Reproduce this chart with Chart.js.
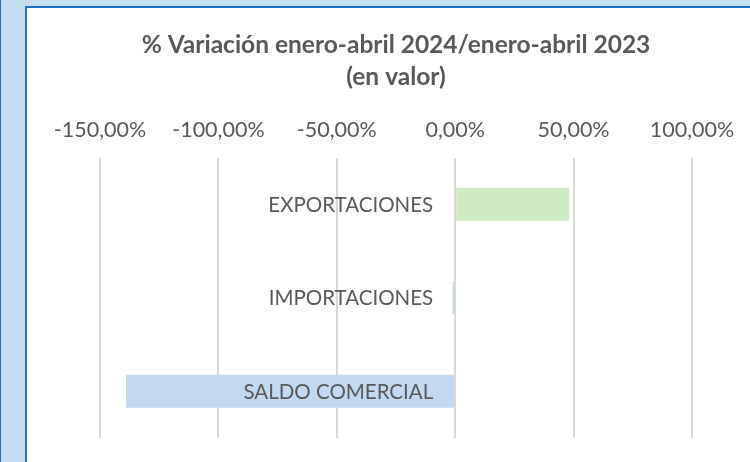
<!DOCTYPE html>
<html>
<head>
<meta charset="utf-8">
<script src="https://cdn.jsdelivr.net/npm/chart.js@4.4.1/dist/chart.umd.min.js"></script>
<style>
  html, body { margin: 0; padding: 0; }
  body { width: 750px; height: 462px; overflow: hidden; background: #c6dcf0; position: relative; }
  #edge { position: absolute; left: 0; top: 0; width: 1px; height: 462px; background: #1f6fc5; }
  #frame { position: absolute; left: 25px; top: 6px; width: 740px; height: 460px;
           border-left: 2px solid #1f6fc5; border-top: 2px solid #1f6fc5; background: #fff; }
  #wrap { position: absolute; left: 0; top: 0; width: 738px; height: 454px; }
</style>
</head>
<body>
<div id="edge"></div>
<div id="frame"><div id="wrap"><canvas id="myChart"></canvas></div></div>
<script>
// data
const categories = ['EXPORTACIONES', 'IMPORTACIONES', 'SALDO COMERCIAL'];
const variation = [48.2, -1.1, -139.0];
const tickValues = [-150, -100, -50, 0, 50, 100];

const FONT = 'Lato, "Open Sans", sans-serif';
const TEXT = '#595959';

function fmtPct(v) {
    return v.toFixed(2).replace('.', ',') + '%';
}

// category names drawn just left of the zero line
const zeroLabels = {
    id: 'zeroLabels',
    afterDatasetsDraw(chart) {
        const ctx = chart.ctx;
        const x0 = chart.scales.x.getPixelForValue(0);
        ctx.save();
        ctx.font = '20.5px ' + FONT;
        ctx.fillStyle = TEXT;
        ctx.textAlign = 'right';
        ctx.textBaseline = 'middle';
        categories.forEach(function(c, i) {
            ctx.fillText(c, x0 - 22, chart.scales.y.getPixelForValue(i) + 1);
        });
        ctx.restore();
    }
};

const ctx = document.getElementById('myChart');
new Chart(ctx, {
    type: 'bar',
    data: {
        labels: categories,
        datasets: [{
            data: variation,
            backgroundColor: variation.map(v => v >= 0 ? '#cdeac3' : '#c3d8f1'),
            barPercentage: 0.355,
            categoryPercentage: 1
        }]
    },
    options: {
        indexAxis: 'y',
        responsive: true,
        maintainAspectRatio: false,
        animation: false,
        layout: { padding: { left: 73, right: 73, top: 21, bottom: 24 } },
        plugins: {
            legend: { display: false },
            tooltip: { enabled: false },
            title: {
                display: true,
                text: ['% Variación enero-abril 2024/enero-abril 2023', '(en valor)'],
                color: TEXT,
                font: { family: FONT, size: 24.5, weight: 'bold', lineHeight: 1.3 },
                padding: { top: 0, bottom: 9 }
            }
        },
        scales: {
            x: {
                position: 'top',
                min: -150,
                max: 100,
                afterBuildTicks(scale) {
                    scale.ticks = tickValues.map(v => ({ value: v }));
                },
                ticks: {
                    color: TEXT,
                    font: { family: FONT, size: 21.5 },
                    padding: 15,
                    callback: v => fmtPct(v)
                },
                grid: { color: '#d9d9d9', lineWidth: 2, drawTicks: false },
                border: { display: false }
            },
            y: {
                display: false
            }
        }
    },
    plugins: [zeroLabels]
});
</script>
</body>
</html>
